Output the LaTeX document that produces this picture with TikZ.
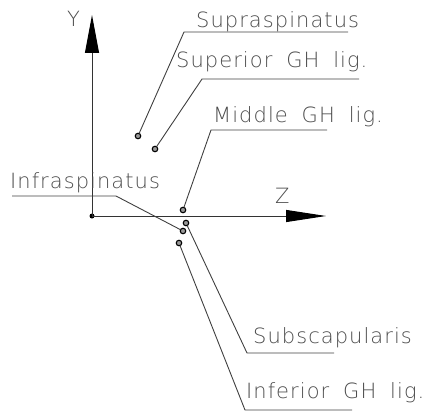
\documentclass[tikz,border=0pt]{standalone}
\usepackage{fontspec}
\setmainfont[LetterSpace=5,WordSpace=1.8]{DejaVu Sans ExtraLight}
\usetikzlibrary{arrows.meta}
\begin{document}
\begin{tikzpicture}[x=1pt,y=-1pt,
  lbl/.style={anchor=base west, inner sep=0pt, text=black!70, font=\fontsize{21}{21}\selectfont},
  ldr/.style={draw=black!75, line width=0.9pt},
  pt/.style={circle, draw=black, fill=black!40, line width=1.1pt, minimum size=5.5pt, inner sep=0pt},
  axis/.style={draw=black!80, line width=1pt}]
\useasboundingbox (0,0) rectangle (426,412);
% axes
\node[circle, fill=black, minimum size=5pt, inner sep=0pt] (o) at (92,216) {};
\coordinate (ytip) at (92,15);
\coordinate (ztip) at (326,216);
\draw[axis, -{Triangle[length=38pt,width=14pt,color=black]}] (o.center) -- (ytip);
\draw[axis, -{Triangle[length=40pt,width=12pt,color=black]}] (o.center) -- (ztip);
\node[lbl] (ylab) at (67,27) {Y};
\node[lbl] (zlab) at (275,203) {Z};
% points
\node[pt] (d1) at (138,136) {};
\node[pt] (d2) at (155,149) {};
\node[pt] (d3) at (183,210) {};
\node[pt] (d4) at (183,231) {};
\node[pt] (d5) at (186,223) {};
\node[pt] (d6) at (179,243) {};
% leader corners and ends
\coordinate (c1) at (184,32);  \coordinate (e1) at (348,32);
\coordinate (c2) at (202,79);  \coordinate (e2) at (359,79);
\coordinate (c3) at (211,130); \coordinate (e3) at (327,130);
\coordinate (c4) at (116,196); \coordinate (e4) at (12,196);
\coordinate (c5) at (247,353); \coordinate (e5) at (334,353);
\coordinate (c6) at (245,410); \coordinate (e6) at (352,410);
\draw[ldr] (d1) -- (c1) -- (e1);
\draw[ldr] (d2) -- (c2) -- (e2);
\draw[ldr] (d3) -- (c3) -- (e3);
\draw[ldr] (d4) -- (c4) -- (e4);
\draw[ldr] (d5) -- (c5) -- (e5);
\draw[ldr] (d6) -- (c6) -- (e6);
% labels
\node[lbl] (t1) at (196,28) {Supraspinatus};
\node[lbl] (t2) at (176,68) {Superior GH lig.};
\node[lbl] (t3) at (213,122) {Middle GH lig.};
\node[lbl] (t4) at (10,188) {Infraspinatus};
\node[lbl] (t5) at (253,343) {Subscapularis};
\node[lbl] (t6) at (246,398) {Inferior GH lig.};
\end{tikzpicture}
\end{document}
